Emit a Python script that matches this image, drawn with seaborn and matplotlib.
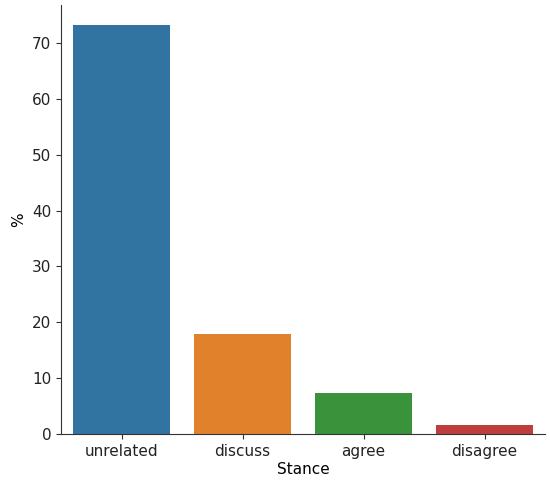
import matplotlib
matplotlib.use("Agg")
import matplotlib.pyplot as plt
import seaborn as sns
import pandas as pd

stances = ["unrelated", "discuss", "agree", "disagree"]
percent = [73.13, 17.83, 7.36, 1.68]

df = pd.DataFrame({"Stance": stances, "%": percent})

plt.rcParams["font.size"] = 11
plt.rcParams["axes.edgecolor"] = "#333333"
plt.rcParams["xtick.color"] = "#333333"
plt.rcParams["ytick.color"] = "#333333"
plt.rcParams["xtick.labelcolor"] = "#222222"
plt.rcParams["ytick.labelcolor"] = "#222222"

fig = plt.figure(figsize=(5.5, 4.84), dpi=100)
ax = fig.add_axes([0.111, 0.103, 0.880, 0.887])
sns.barplot(data=df, x="Stance", y="%", hue="Stance", palette="tab10",
            saturation=0.75, legend=False, ax=ax)
sns.despine(ax=ax)
ax.set_yticks([0, 10, 20, 30, 40, 50, 60, 70])
ax.set_xlabel("Stance", labelpad=2)
fig.savefig("out.png", dpi=100)
